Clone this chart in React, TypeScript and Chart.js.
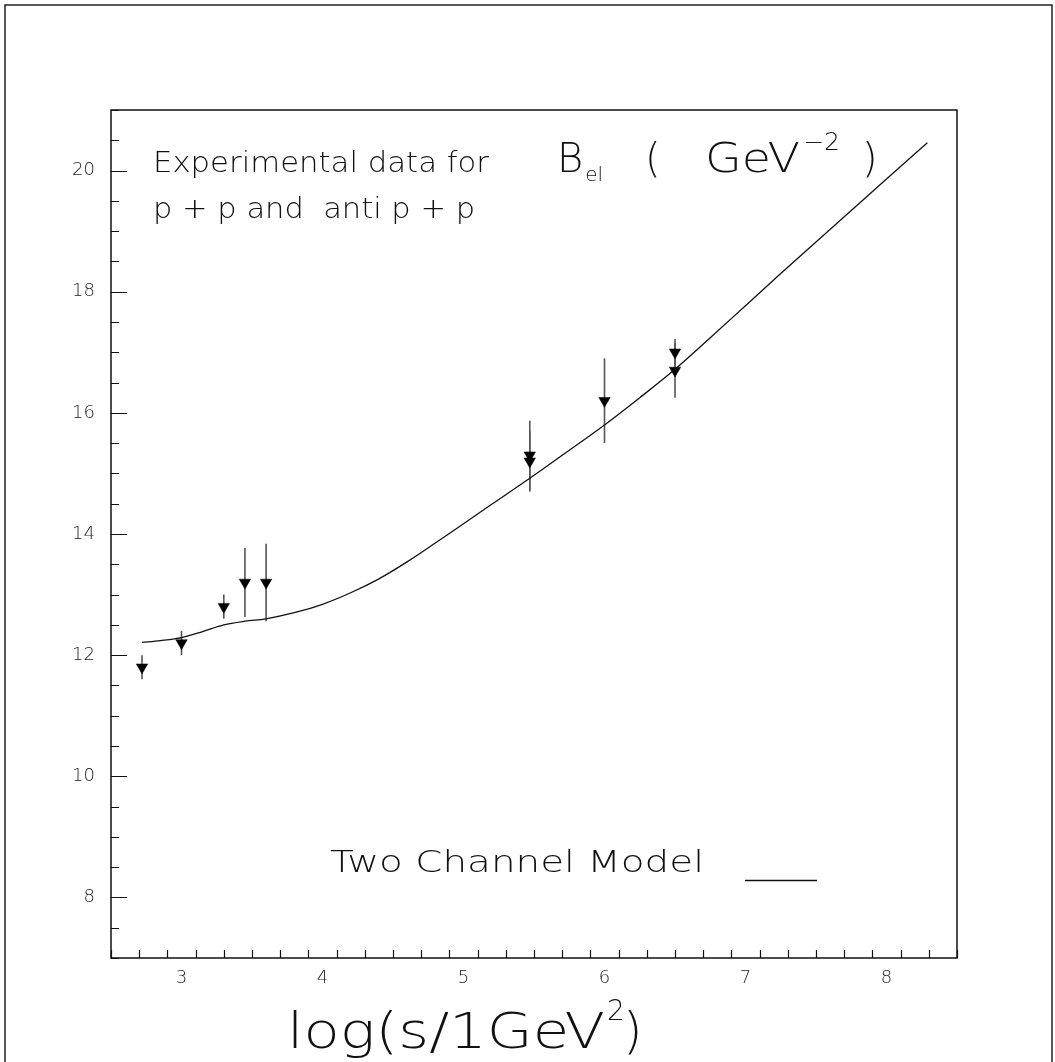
import React, { useEffect, useRef } from "react";
import { Chart, registerables } from "chart.js";

Chart.register(...registerables);

// Model curve (Two Channel Model)
const modelX = [2.72, 2.85, 3.0, 3.15, 3.3, 3.45, 3.6, 3.8, 4.0, 4.2, 4.4, 4.6, 4.8, 5.0, 5.2, 5.47, 5.7, 6.0, 6.25, 6.5, 6.75, 7.0, 7.25, 7.5, 7.75, 8.0, 8.29];
const modelY = [12.21, 12.24, 12.29, 12.39, 12.5, 12.56, 12.6, 12.7, 12.84, 13.03, 13.26, 13.54, 13.85, 14.17, 14.49, 14.92, 15.3, 15.8, 16.25, 16.72, 17.24, 17.77, 18.3, 18.82, 19.34, 19.86, 20.46];

// Experimental data (p+p and anti p + p)
const expX = [2.72, 3.0, 3.3, 3.45, 3.6, 5.47, 5.47, 6.0, 6.5, 6.5];
const expY = [11.8, 12.2, 12.8, 13.2, 13.2, 15.3, 15.2, 16.2, 17.0, 16.7];
const expErr = [0.2, 0.2, 0.2, 0.57, 0.64, 0.57, 0.5, 0.7, 0.22, 0.45];

// Axis ticks
const xTickLabels = [3, 4, 5, 6, 7, 8];
const yTickLabels = [8, 10, 12, 14, 16, 18, 20];
const xRange = [2.5, 8.5];
const yRange = [7, 21];
const xMinorStep = 0.2;
const yMinorStep = 0.5;

const FONT_FAMILY = '"DejaVu Sans", "Liberation Sans", sans-serif';
const INK = "#111";

function drawText(
  ctx: CanvasRenderingContext2D,
  s: string,
  x: number,
  y: number,
  size: number,
  width?: number
): number {
  ctx.font = `200 ${size}px ${FONT_FAMILY}`;
  ctx.textBaseline = "alphabetic";
  ctx.textAlign = "left";
  const w = ctx.measureText(s).width;
  if (width) {
    ctx.save();
    ctx.translate(x, y);
    ctx.scale(width / w, 1);
    ctx.fillText(s, 0, 0);
    ctx.restore();
    return x + width;
  }
  ctx.fillText(s, x, y);
  return x + w;
}

const decorPlugin = {
  id: "decor",
  beforeDraw(chart: any) {
    const ctx = chart.ctx as CanvasRenderingContext2D;
    ctx.save();
    ctx.fillStyle = "#fff";
    ctx.fillRect(0, 0, chart.width, chart.height);
    ctx.strokeStyle = "#222";
    ctx.lineWidth = 1.5;
    ctx.strokeRect(5, 5, chart.width - 8, chart.height + 20);
    ctx.restore();
  },
  beforeDatasetsDraw(chart: any) {
    const ctx = chart.ctx as CanvasRenderingContext2D;
    const xs = chart.scales.x;
    const ys = chart.scales.y;
    ctx.save();
    ctx.strokeStyle = "#555";
    ctx.lineWidth = 1.6;
    for (let i = 0; i < expX.length; i++) {
      const px = xs.getPixelForValue(expX[i]);
      const top = ys.getPixelForValue(expY[i] + expErr[i]);
      const bot = ys.getPixelForValue(expY[i] - expErr[i]);
      ctx.beginPath();
      ctx.moveTo(px, top);
      ctx.lineTo(px, bot);
      ctx.stroke();
    }
    ctx.restore();
  },
  afterDraw(chart: any) {
    const ctx = chart.ctx as CanvasRenderingContext2D;
    const a = chart.chartArea;
    const xs = chart.scales.x;
    const ys = chart.scales.y;
    ctx.save();
    // frame
    ctx.strokeStyle = INK;
    ctx.lineWidth = 1.5;
    ctx.strokeRect(a.left, a.top, a.right - a.left, a.bottom - a.top);
    // inward ticks
    ctx.lineWidth = 1.2;
    ctx.beginPath();
    for (let v = xRange[0]; v <= xRange[1] + 1e-6; v += xMinorStep) {
      const vv = Math.round(v * 10) / 10;
      const major = xTickLabels.some((t) => Math.abs(t - vv) < 1e-6);
      const px = Math.round(xs.getPixelForValue(vv)) + 0.5;
      ctx.moveTo(px, a.bottom);
      ctx.lineTo(px, a.bottom - (major ? 16 : 8));
    }
    for (let v = yRange[0]; v <= yRange[1] + 1e-6; v += yMinorStep) {
      const vv = Math.round(v * 10) / 10;
      const major = yTickLabels.some((t) => Math.abs(t - vv) < 1e-6);
      const py = Math.round(ys.getPixelForValue(vv)) + 0.5;
      ctx.moveTo(a.left, py);
      ctx.lineTo(a.left + (major ? 16 : 8), py);
    }
    ctx.stroke();

    // annotations
    ctx.fillStyle = INK;
    drawText(ctx, "Experimental data for", 153, 172, 29, 336);
    drawText(ctx, "p + p and  anti p + p", 153, 218, 29, 322);

    // B_el ( GeV^-2 )
    let x = drawText(ctx, "B", 557, 172, 40);
    drawText(ctx, "el", x + 2, 181, 20);
    drawText(ctx, "(", 645, 172, 40);
    x = drawText(ctx, "GeV", 705, 172, 40, 95);
    drawText(ctx, "\u22122", x + 3, 150, 24, 37);
    drawText(ctx, ")", 862, 172, 40);

    // legend
    drawText(ctx, "Two Channel Model", 330, 872, 30, 374);
    const ds = chart.data.datasets[0];
    ctx.strokeStyle = ds.borderColor;
    ctx.lineWidth = ds.borderWidth;
    ctx.beginPath();
    ctx.moveTo(745, 880.5);
    ctx.lineTo(817, 880.5);
    ctx.stroke();

    // x axis title
    x = drawText(ctx, "log(s/1GeV", 287, 1048, 50, 318);
    drawText(ctx, "2", x + 2, 1020, 28);
    drawText(ctx, ")", x + 18, 1048, 50);
    ctx.restore();
  },
};

export default function App() {
  const ref = useRef<HTMLCanvasElement | null>(null);
  useEffect(() => {
    if (!ref.current) return;
    const tickFont = { family: FONT_FAMILY, size: 18, weight: "200" as any };
    const chart = new Chart(ref.current, {
      type: "line",
      data: {
        datasets: [
          {
            label: "Two Channel Model",
            data: modelX.map((x, i) => ({ x, y: modelY[i] })),
            borderColor: "#111",
            borderWidth: 1.3,
            pointRadius: 0,
            fill: false,
            cubicInterpolationMode: "monotone",
          },
          {
            label: "Experimental data",
            data: expX.map((x, i) => ({ x, y: expY[i] })),
            showLine: false,
            pointStyle: "triangle",
            rotation: 180,
            pointRadius: 6.6,
            pointBackgroundColor: "#000",
            pointBorderColor: "#000",
            pointBorderWidth: 0.5,
          },
        ],
      },
      options: {
        animation: false,
        responsive: false,
        events: [],
        layout: { padding: { top: 110, right: 98, left: 0, bottom: 0 } },
        plugins: { legend: { display: false }, tooltip: { enabled: false } },
        scales: {
          x: {
            type: "linear",
            min: xRange[0],
            max: xRange[1],
            grid: { display: false, drawTicks: false },
            border: { display: false },
            afterBuildTicks: (s: any) => {
              s.ticks = xTickLabels.map((v) => ({ value: v }));
            },
            afterFit: (s: any) => {
              s.height = 104;
            },
            ticks: {
              font: tickFont,
              color: "#222",
              padding: 10,
              maxRotation: 0,
              autoSkip: false,
            },
          },
          y: {
            type: "linear",
            min: yRange[0],
            max: yRange[1],
            grid: { display: false, drawTicks: false },
            border: { display: false },
            afterBuildTicks: (s: any) => {
              s.ticks = yTickLabels.map((v) => ({ value: v }));
            },
            afterFit: (s: any) => {
              s.width = 111;
            },
            ticks: {
              font: tickFont,
              color: "#222",
              padding: 16,
              autoSkip: false,
            },
          },
        },
      },
      plugins: [decorPlugin],
    });
    return () => chart.destroy();
  }, []);
  return (
    <div style={{ position: "absolute", left: 0, top: 0, width: 1055, height: 1062, overflow: "hidden" }}>
      <canvas ref={ref} width={1055} height={1062} style={{ display: "block", width: 1055, height: 1062 }} />
    </div>
  );
}
